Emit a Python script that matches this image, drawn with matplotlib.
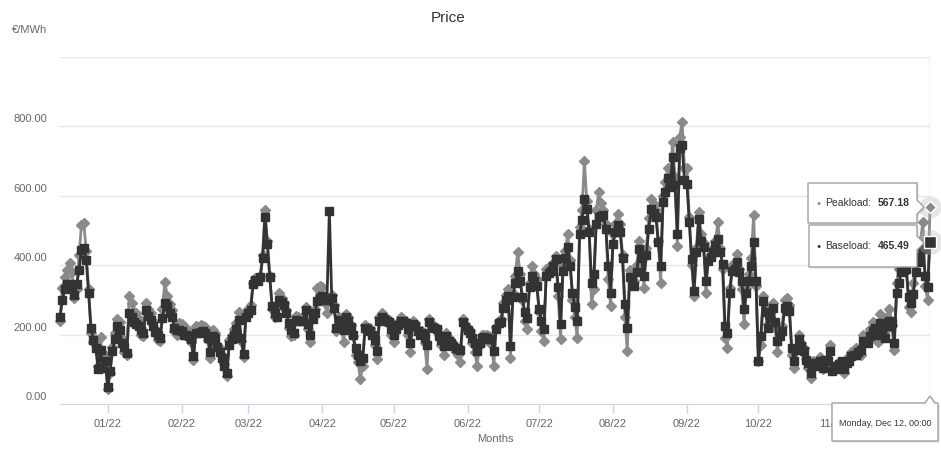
import matplotlib
matplotlib.use("Agg")
import matplotlib.pyplot as plt
import matplotlib.dates as mdates
import pandas as pd
from matplotlib.patches import Polygon
from matplotlib.ticker import FuncFormatter
from matplotlib.transforms import IdentityTransform, offset_copy

# ---- data (daily, 12 Dec 2021 .. 12 Dec 2022, one row = one week Sun..Sat) ----
start_date = "2021-12-12"

baseload = [
    250, 300, 330, 345, 345, 340, 315,
    345, 385, 445, 450, 415, 320, 220,
    185, 160, 100, 155, 105, 125, 48,
    94, 152, 186, 224, 214, 176, 165,
    148, 262, 252, 236, 230, 224, 212,
    205, 272, 253, 243, 226, 208, 198,
    190, 248, 292, 282, 263, 252, 219,
    212, 212, 210, 200, 198, 195, 188,
    137, 205, 205, 207, 210, 205, 190,
    150, 195, 190, 165, 150, 132, 110,
    90, 170, 188, 200, 215, 243, 190,
    145, 250, 262, 272, 345, 358, 355,
    365, 420, 540, 460, 365, 282, 262,
    250, 300, 295, 285, 262, 234, 212,
    205, 243, 240, 240, 238, 270, 230,
    200, 245, 262, 298, 305, 312, 300,
    300, 557, 305, 278, 220, 243, 235,
    214, 250, 240, 222, 200, 160, 140,
    123, 133, 218, 215, 210, 200, 185,
    152, 240, 250, 245, 238, 235, 215,
    198, 215, 228, 240, 238, 232, 215,
    176, 230, 225, 210, 198, 205, 190,
    171, 235, 222, 218, 215, 195, 185,
    166, 195, 182, 175, 168, 162, 158,
    155, 235, 222, 212, 205, 190, 176,
    152, 175, 190, 192, 190, 188, 186,
    152, 215, 232, 236, 278, 300, 312,
    166, 307, 350, 384, 355, 307, 264,
    249, 336, 370, 355, 341, 273, 240,
    215, 370, 378, 384, 399, 418, 336,
    230, 384, 420, 452, 399, 321, 280,
    240, 490, 529, 592, 563, 495, 350,
    375, 520, 539, 542, 544, 505, 399,
    321, 462, 495, 515, 495, 422, 287,
    220, 365, 355, 341, 380, 447, 420,
    370, 428, 505, 563, 550, 539, 466,
    399, 582, 611, 650, 626, 713, 631,
    490, 737, 747, 645, 635, 524, 418,
    326, 437, 534, 471, 452, 355, 413,
    425, 437, 457, 476, 437, 404, 224,
    205, 321, 384, 389, 408, 380, 355,
    273, 321, 355, 399, 466, 355, 123,
    195, 297, 264, 220, 250, 278, 235,
    181, 195, 210, 278, 283, 268, 162,
    123, 157, 186, 166, 152, 128, 118,
    89, 118, 114, 109, 123, 104, 128,
    123, 152, 94, 100, 109, 115, 123,
    100, 118, 125, 137, 140, 142, 150,
    157, 181, 178, 176, 195, 210, 220,
    200, 234, 215, 190, 225, 239, 234,
    176, 321, 350, 379, 385, 389, 307,
    290, 317, 379, 408, 425, 447, 370,
    336, 465.49,
]

peakload = [
    240, 335, 365, 385, 405, 380, 305,
    330, 430, 515, 522, 440, 330, 205,
    178, 185, 110, 192, 120, 140, 42,
    88, 165, 205, 245, 236, 190, 150,
    140, 310, 292, 265, 262, 245, 200,
    195, 290, 275, 262, 240, 215, 185,
    182, 275, 352, 310, 288, 270, 210,
    200, 232, 230, 225, 215, 210, 180,
    128, 225, 222, 228, 225, 222, 185,
    132, 212, 205, 170, 160, 140, 115,
    80, 185, 200, 215, 232, 265, 182,
    135, 265, 275, 285, 350, 362, 360,
    370, 430, 560, 470, 370, 275, 250,
    255, 320, 305, 290, 270, 220, 195,
    200, 255, 250, 248, 245, 280, 215,
    180, 255, 275, 335, 340, 338, 290,
    262, 300, 315, 285, 210, 250, 225,
    178, 258, 250, 228, 195, 140, 120,
    73, 110, 228, 222, 218, 205, 170,
    130, 250, 262, 255, 245, 242, 200,
    180, 222, 235, 250, 245, 240, 200,
    150, 240, 232, 215, 205, 210, 175,
    101, 245, 230, 225, 220, 200, 170,
    140, 205, 190, 182, 172, 150, 140,
    120, 245, 230, 220, 210, 175, 150,
    110, 170, 200, 200, 198, 195, 172,
    110, 222, 240, 245, 290, 315, 330,
    134, 320, 370, 437, 375, 300, 240,
    215, 350, 398, 375, 360, 265, 210,
    181, 390, 395, 400, 406, 427, 310,
    186, 400, 440, 490, 415, 300, 250,
    190, 510, 560, 701, 585, 505, 287,
    330, 560, 610, 580, 560, 520, 360,
    282, 490, 520, 548, 520, 430, 250,
    152, 385, 370, 355, 400, 470, 425,
    335, 450, 535, 592, 575, 560, 470,
    350, 600, 640, 679, 650, 756, 655,
    456, 770, 814, 680, 679, 540, 400,
    311, 450, 553, 490, 465, 320, 420,
    430, 450, 470, 524, 450, 390, 190,
    161, 335, 400, 405, 432, 390, 330,
    230, 335, 375, 420, 544, 340, 123,
    170, 310, 280, 230, 262, 290, 220,
    150, 205, 225, 300, 305, 285, 142,
    105, 165, 200, 175, 160, 130, 105,
    75, 125, 122, 116, 135, 100, 115,
    110, 170, 100, 108, 115, 122, 118,
    88, 130, 138, 150, 155, 160, 145,
    140, 200, 196, 192, 215, 235, 205,
    180, 260, 240, 210, 250, 275, 228,
    155, 350, 390, 420, 430, 430, 280,
    265, 350, 420, 452, 470, 524, 340,
    300, 567.18,
]

y_ticks = [0, 200, 400, 600, 800]
grid_lines = [0, 200, 400, 600, 800, 1000]
tooltip_date = "Monday, Dec 12, 00:00"

dates = pd.date_range(start_date, periods=len(baseload), freq="D")

# ---- figure ----
W, H = 941, 454
plt.rcParams["font.family"] = ["Liberation Sans", "DejaVu Sans"]
fig = plt.figure(figsize=(W / 100, H / 100), dpi=100)
fig.patch.set_facecolor("white")

ax = fig.add_axes([60 / W, 1 - 404 / H, 870 / W, 347 / H])
ax.set_xlim(dates[0], dates[-1])
ax.set_ylim(0, 1000)

PEAK_C = "#8a8a8a"
BASE_C = "#333333"
LABEL_C = "#666666"

for g in grid_lines:
    ax.axhline(g, color="#e6e6e6", lw=1, zorder=0)
ax.axvline(dates[-1], color="#cccccc", lw=1, zorder=1)

ax.plot(dates, peakload, color=PEAK_C, lw=2, marker="D", ms=5,
        mec=PEAK_C, mfc=PEAK_C, clip_on=False, zorder=2)
ax.plot(dates, baseload, color=BASE_C, lw=2, marker="s", ms=5.5,
        mec=BASE_C, mfc=BASE_C, clip_on=False, zorder=3)

# hover state of the last point
ax.plot(dates[-1], peakload[-1], marker="o", ms=16, color="#bbbbbb",
        alpha=0.35, mec="none", clip_on=False, zorder=4)
ax.plot(dates[-1], baseload[-1], marker="o", ms=18, color="#bbbbbb",
        alpha=0.35, mec="none", clip_on=False, zorder=4)
ax.plot(dates[-1], peakload[-1], marker="D", ms=6, color=PEAK_C,
        mec="white", mew=1, clip_on=False, zorder=5)
ax.plot(dates[-1], baseload[-1], marker="s", ms=8, color=BASE_C,
        mec="white", mew=1, clip_on=False, zorder=5)

for s in ["top", "right", "left"]:
    ax.spines[s].set_visible(False)
ax.spines["bottom"].set_color("#ccd6eb")
ax.spines["bottom"].set_zorder(1)


# the 12/22 label sits completely under the date tooltip
def month_label(x, pos):
    d = mdates.num2date(x)
    if d.year == 2022 and d.month == 12:
        return ""
    return d.strftime("%m/%y")


ax.xaxis.set_major_locator(mdates.MonthLocator(bymonthday=1))
ax.xaxis.set_major_formatter(FuncFormatter(month_label))
ax.tick_params(axis="x", colors="#ccd6eb", length=6.5, width=1,
               labelcolor=LABEL_C, labelsize=8, pad=4)
ax.set_yticks([])
ax.set_xlabel("Months", color=LABEL_C, fontsize=8, labelpad=4)

# y labels sit a few pixels above their grid lines
ylab_tr = offset_copy(ax.get_yaxis_transform(), fig=fig, x=-13, y=7, units="dots")
for v in y_ticks:
    ax.text(0, v, f"{v:.2f}", transform=ylab_tr, ha="right", va="center",
            color=LABEL_C, fontsize=8)

fig.text(12 / W, 1 - 30 / H, "€/MWh", ha="left", va="center",
         color=LABEL_C, fontsize=8)
fig.text(448 / W, 1 - 18 / H, "Price", ha="center", va="center",
         color="#333333", fontsize=11)


# ---- tooltips (pixel coordinates, y measured from the top) ----
def px(points):
    return [(x, H - y) for x, y in points]


def tooltip(points):
    shadow = Polygon(px([(x + 1.5, y + 1.5) for x, y in points]), closed=True,
                     fc="black", ec="none", alpha=0.12,
                     transform=IdentityTransform(), zorder=1)
    box = Polygon(px(points), closed=True, fc="white", ec="#a0a0a0", lw=1,
                  transform=IdentityTransform(), zorder=1.1)
    fig.add_artist(shadow)
    fig.add_artist(box)


tooltip([(808, 183), (917, 183), (917, 200), (924, 207), (917, 214),
         (917, 223), (808, 223)])
tooltip([(809, 225), (917, 225), (917, 236), (924, 243), (917, 250),
         (917, 267), (809, 267)])
tooltip([(832, 403), (925, 403), (930, 396), (935, 403), (938, 403),
         (938, 441), (832, 441)])

fig.text(819 / W, 1 - 203 / H, "●", color=PEAK_C, fontsize=5,
         ha="center", va="center", zorder=3)
fig.text(825 / W, 1 - 203 / H, "Peakload:", color="#333333", fontsize=7.5,
         ha="left", va="center", zorder=3)
fig.text(910 / W, 1 - 203 / H, f"{peakload[-1]:.2f}", color="#333333",
         fontsize=7.5, fontweight="bold", ha="right", va="center", zorder=3)

fig.text(819 / W, 1 - 246 / H, "●", color=BASE_C, fontsize=5,
         ha="center", va="center", zorder=3)
fig.text(825 / W, 1 - 246 / H, "Baseload:", color="#333333", fontsize=7.5,
         ha="left", va="center", zorder=3)
fig.text(910 / W, 1 - 246 / H, f"{baseload[-1]:.2f}", color="#333333",
         fontsize=7.5, fontweight="bold", ha="right", va="center", zorder=3)

fig.text(885 / W, 1 - 423 / H, tooltip_date, color="#333333", fontsize=6.5,
         ha="center", va="center", zorder=3)

fig.savefig("out.png", dpi=100, facecolor="white")
